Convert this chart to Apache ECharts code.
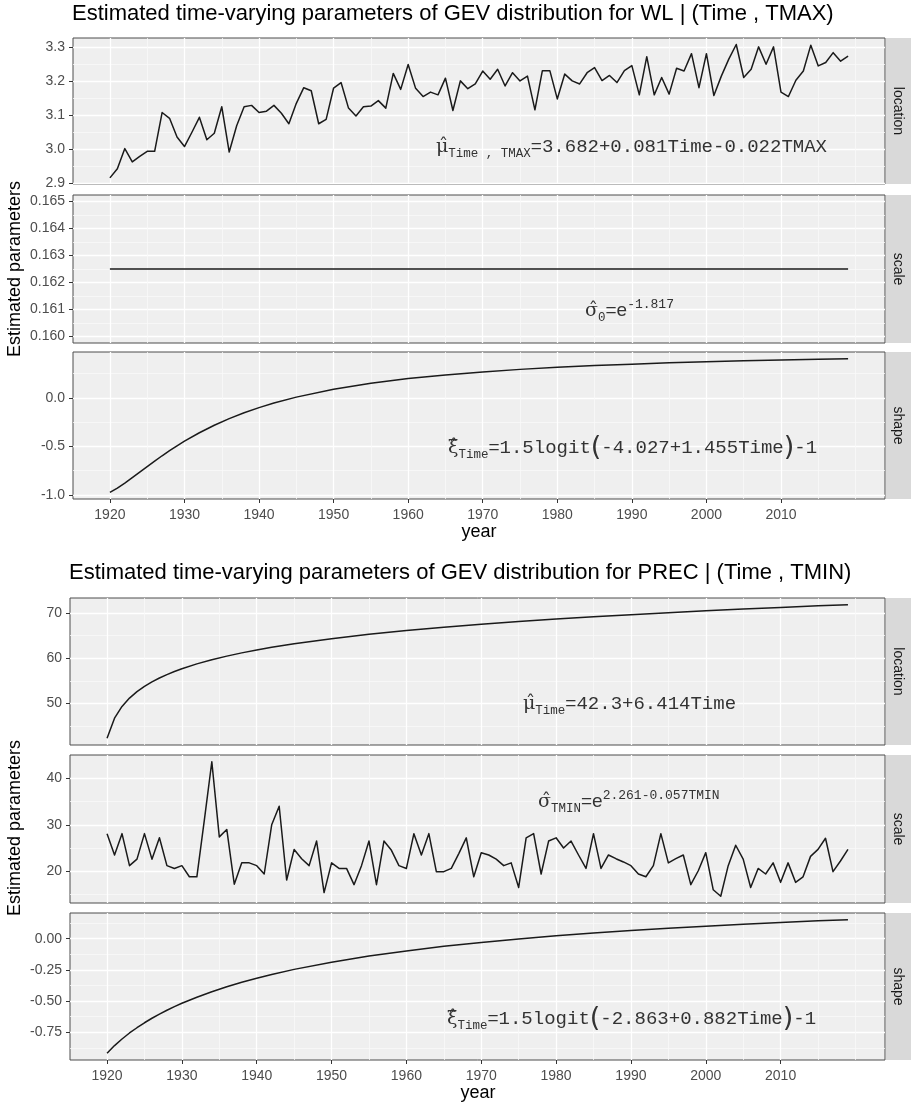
<!DOCTYPE html>
<html>
<head>
<meta charset="utf-8">
<script src="https://cdn.jsdelivr.net/npm/echarts@6.0.0/dist/echarts.min.js"></script>
<style>
html, body { margin: 0; padding: 0; background: #fff; }
#chart { width: 911px; height: 1104px; }
</style>
</head>
<body>
<div id="chart"></div>
<script>
// ---- data ----
var years = [];
for (var yr = 1920; yr <= 2019; yr++) years.push(yr);

// WL location (noisy series, 1920-2019)
var wlLocation = [
    2.915, 2.942, 3.001, 2.962, 2.978, 2.993, 2.993, 3.107, 3.090, 3.035,
    3.007, 3.049, 3.093, 3.027, 3.046, 3.124, 2.991, 3.068, 3.124, 3.128,
    3.107, 3.111, 3.128, 3.105, 3.074, 3.134, 3.180, 3.171, 3.074, 3.087,
    3.179, 3.195, 3.120, 3.097, 3.124, 3.126, 3.142, 3.120, 3.222, 3.175,
    3.248, 3.178, 3.154, 3.167, 3.159, 3.208, 3.113, 3.200, 3.177, 3.191,
    3.229, 3.205, 3.234, 3.185, 3.224, 3.200, 3.214, 3.115, 3.230, 3.230,
    3.147, 3.220, 3.200, 3.191, 3.224, 3.239, 3.201, 3.216, 3.195, 3.230,
    3.245, 3.159, 3.271, 3.159, 3.210, 3.161, 3.237, 3.229, 3.280, 3.180,
    3.280, 3.157, 3.214, 3.264, 3.307, 3.210, 3.234, 3.300, 3.249, 3.300,
    3.167, 3.154, 3.202, 3.229, 3.305, 3.244, 3.254, 3.283, 3.258, 3.273
];

// WL scale (constant)
var wlScaleYears = [1920, 2019];
var wlScale = [0.1625, 0.1625];

// smooth curves, sampled years
var curveYears = [1920, 1921, 1922, 1923, 1924, 1925, 1926, 1927, 1928, 1929, 1930,
    1932, 1934, 1936, 1938, 1940, 1942, 1945, 1950, 1955, 1960, 1965, 1970,
    1975, 1980, 1985, 1990, 1995, 2000, 2005, 2010, 2015, 2019];

var wlShape = [-0.974, -0.930, -0.879, -0.823, -0.765, -0.708, -0.652, -0.597, -0.545, -0.495, -0.447,
    -0.360, -0.283, -0.214, -0.154, -0.101, -0.054, 0.007, 0.088, 0.149, 0.198, 0.236, 0.267,
    0.293, 0.314, 0.332, 0.347, 0.360, 0.371, 0.381, 0.390, 0.398, 0.403];

var precLocation = [42.30, 46.75, 49.35, 51.19, 52.62, 53.79, 54.78, 55.64, 56.39, 57.07, 57.68,
    58.75, 59.67, 60.47, 61.19, 61.83, 62.41, 63.20, 64.33, 65.28, 66.12, 66.86, 67.52,
    68.12, 68.67, 69.17, 69.64, 70.08, 70.49, 70.87, 71.23, 71.58, 71.84];

// PREC scale (noisy series, 1920-2019)
var precScale = [
    28.1, 23.5, 28.1, 21.2, 22.6, 28.1, 22.6, 27.2, 21.2, 20.6,
    21.2, 18.8, 18.8, 31.0, 43.6, 27.4, 29.0, 17.2, 21.8, 21.8,
    21.2, 19.4, 30.0, 34.0, 18.1, 24.7, 22.7, 21.2, 26.5, 15.4,
    21.8, 20.6, 20.6, 17.1, 21.2, 26.5, 17.1, 26.5, 24.5, 21.2,
    20.6, 28.1, 23.5, 28.1, 19.9, 19.9, 20.6, 23.8, 27.2, 18.8,
    24.0, 23.5, 22.6, 21.2, 21.8, 16.5, 27.2, 28.1, 19.4, 26.5,
    27.2, 25.0, 26.5, 23.5, 20.6, 28.1, 20.6, 23.5, 22.7, 22.0,
    21.2, 19.4, 18.8, 21.2, 28.1, 21.8, 22.7, 23.5, 17.1, 20.1,
    24.0, 16.0, 14.6, 21.2, 25.6, 22.6, 16.5, 20.6, 19.4, 21.8,
    17.6, 21.8, 17.6, 18.8, 23.2, 24.7, 27.1, 19.9, 22.2, 24.7
];

var precShape = [-0.919, -0.857, -0.804, -0.756, -0.714, -0.674, -0.638, -0.605, -0.574, -0.545, -0.518,
    -0.469, -0.425, -0.385, -0.349, -0.317, -0.287, -0.246, -0.188, -0.139, -0.098, -0.061, -0.030,
    -0.002, 0.023, 0.045, 0.065, 0.084, 0.100, 0.116, 0.130, 0.143, 0.152];

// tick labels / grid breaks
var yearTicks = [1920, 1930, 1940, 1950, 1960, 1970, 1980, 1990, 2000, 2010];
var yearMinor = [1915, 1925, 1935, 1945, 1955, 1965, 1975, 1985, 1995, 2005, 2015, 2020];
var wlLocTicks = [2.9, 3.0, 3.1, 3.2, 3.3];
var wlLocMinor = [2.95, 3.05, 3.15, 3.25];
var wlScaleTicks = [0.160, 0.161, 0.162, 0.163, 0.164, 0.165];
var wlScaleMinor = [0.1605, 0.1615, 0.1625, 0.1635, 0.1645];
var wlShapeTicks = [-1.0, -0.5, 0.0];
var wlShapeMinor = [-0.75, -0.25, 0.25];
var precLocTicks = [50, 60, 70];
var precLocMinor = [45, 55, 65];
var precScaleTicks = [20, 30, 40];
var precScaleMinor = [15, 25, 35];
var precShapeTicks = [-0.75, -0.50, -0.25, 0.00];
var precShapeMinor = [-0.875, -0.625, -0.375, -0.125, 0.125];

function pairs(xs, ys) {
    return xs.map(function (x, i) { return [x, ys[i]]; });
}

var panels = [
    {left: 73, top: 38, width: 812, height: 146, yMin: 2.897, yMax: 3.326, ticks: wlLocTicks, minor: wlLocMinor, digits: 1, strip: 'location', bottom: false, data: pairs(years, wlLocation)},
    {left: 73, top: 195, width: 812, height: 148, yMin: 0.15976, yMax: 0.16524, ticks: wlScaleTicks, minor: wlScaleMinor, digits: 3, strip: 'scale', bottom: false, data: pairs(wlScaleYears, wlScale)},
    {left: 73, top: 352, width: 812, height: 147, yMin: -1.0425, yMax: 0.472, ticks: wlShapeTicks, minor: wlShapeMinor, digits: 1, strip: 'shape', bottom: true, data: pairs(curveYears, wlShape)},
    {left: 70, top: 598, width: 815, height: 147, yMin: 40.82, yMax: 73.32, ticks: precLocTicks, minor: precLocMinor, digits: 0, strip: 'location', bottom: false, data: pairs(curveYears, precLocation)},
    {left: 70, top: 755, width: 815, height: 148, yMin: 13.15, yMax: 45.05, ticks: precScaleTicks, minor: precScaleMinor, digits: 0, strip: 'scale', bottom: false, data: pairs(years, precScale)},
    {left: 70, top: 913, width: 815, height: 147, yMin: -0.9726, yMax: 0.206, ticks: precShapeTicks, minor: precShapeMinor, digits: 2, strip: 'shape', bottom: true, data: pairs(curveYears, precShape)}
];

var xMin = 1915.05, xMax = 2023.95;
var labelStyle = {color: '#4d4d4d', fontSize: 14, fontFamily: 'Liberation Sans'};
var titleStyle = {fontFamily: 'Liberation Sans', fontSize: 22, fontWeight: 'normal', color: '#000'};

var option = {
    animation: false,
    backgroundColor: '#fff',
    title: [
        {text: 'Estimated time-varying parameters of GEV distribution for WL | (Time , TMAX)', left: 72, top: 3, padding: 0, textStyle: titleStyle},
        {text: 'Estimated time-varying parameters of GEV distribution for PREC | (Time , TMIN)', left: 69, top: 562, padding: 0, textStyle: titleStyle}
    ],
    grid: [],
    xAxis: [],
    yAxis: [],
    series: [],
    graphic: []
};

panels.forEach(function (p, i) {
    option.grid.push({left: p.left, top: p.top, width: p.width, height: p.height, show: true,
        outerBoundsMode: 'none', containLabel: false,
        backgroundColor: '#efefef', borderColor: '#4d4d4d', borderWidth: 1});
    // minor grid lines
    option.xAxis.push({gridIndex: i, type: 'value', position: 'bottom', min: xMin, max: xMax,
        axisLine: {show: false, onZero: false},
        axisTick: {show: false, customValues: yearMinor},
        axisLabel: {show: false, customValues: yearMinor},
        splitLine: {show: true, lineStyle: {color: '#f9f9f9', width: 0.8}}});
    // major
    option.xAxis.push({gridIndex: i, type: 'value', position: 'bottom', min: xMin, max: xMax,
        axisLine: {show: false, onZero: false},
        axisTick: {show: p.bottom, length: 4, lineStyle: {color: '#333', width: 1}, customValues: yearTicks},
        axisLabel: Object.assign({show: p.bottom, margin: 9, customValues: yearTicks,
            formatter: function (v) { return String(v); }}, labelStyle),
        splitLine: {show: true, lineStyle: {color: '#fff', width: 1.3}}});
    option.yAxis.push({gridIndex: i, type: 'value', position: 'left', min: p.yMin, max: p.yMax,
        axisLine: {show: false, onZero: false},
        axisTick: {show: false, customValues: p.minor},
        axisLabel: {show: false, customValues: p.minor},
        splitLine: {show: true, lineStyle: {color: '#f9f9f9', width: 0.8}}});
    option.yAxis.push({gridIndex: i, type: 'value', position: 'left', min: p.yMin, max: p.yMax,
        axisLine: {show: false, onZero: false},
        axisTick: {show: true, length: 4, lineStyle: {color: '#333', width: 1}, customValues: p.ticks},
        axisLabel: Object.assign({show: true, margin: 8, customValues: p.ticks,
            formatter: (function (d) { return function (v) { return v.toFixed(d); }; })(p.digits)}, labelStyle),
        splitLine: {show: true, lineStyle: {color: '#fff', width: 1.3}}});

    option.series.push({
        type: 'line', xAxisIndex: 2 * i + 1, yAxisIndex: 2 * i + 1,
        data: p.data, showSymbol: false, symbol: 'none', smooth: false,
        lineStyle: {color: '#1a1a1a', width: 1.5, join: 'round'}, z: 5
    });

    // facet strip
    option.graphic.push({type: 'rect', shape: {x: 886, y: p.top, width: 25, height: p.height},
        style: {fill: '#d9d9d9'}, z: 1});
    option.graphic.push({type: 'text', x: 898, y: p.top + p.height / 2, rotation: -Math.PI / 2, z: 2,
        style: {text: p.strip, fill: '#1a1a1a', fontSize: 14, fontFamily: 'Liberation Sans', align: 'center', verticalAlign: 'middle'}});
});

// axis titles
[{y: 269}, {y: 828}].forEach(function (t) {
    option.graphic.push({type: 'text', x: 15, y: t.y, rotation: Math.PI / 2, z: 2,
        style: {text: 'Estimated parameters', fill: '#000', fontSize: 18, fontFamily: 'Liberation Sans', align: 'center', verticalAlign: 'middle'}});
});
[{x: 479, y: 532}, {x: 478, y: 1093}].forEach(function (t) {
    option.graphic.push({type: 'text', x: t.x, y: t.y, z: 2,
        style: {text: 'year', fill: '#000', fontSize: 18, fontFamily: 'Liberation Sans', align: 'center', verticalAlign: 'middle'}});
});

// fitted-model equations
var mathRich = {
    g: {fontFamily: 'DejaVu Serif', fontSize: 19, lineHeight: 26, fill: '#333'},
    s: {fontFamily: 'Liberation Mono', fontSize: 12.5, lineHeight: 12, verticalAlign: 'bottom', fill: '#333'},
    e: {fontFamily: 'Liberation Sans', fontSize: 19, lineHeight: 26, fill: '#333'},
    m: {fontFamily: 'Liberation Mono', fontSize: 19, lineHeight: 26, fill: '#333'},
    p: {fontFamily: 'Liberation Mono', fontSize: 13, lineHeight: 12, verticalAlign: 'top', fill: '#333'},
    b: {fontFamily: 'DejaVu Sans', fontSize: 27, lineHeight: 26, fill: '#333'}
};
function eqText(x, y, text) {
    return {type: 'text', x: x, y: y, z: 50,
        style: {text: text, rich: mathRich, fill: '#333', align: 'left', verticalAlign: 'top'}};
}
option.graphic.push(eqText(436, 134, '{g|\u03bc\u0302}{s|Time , TMAX}{e|=}{m|3.682+0.081Time-0.022TMAX}'));
option.graphic.push(eqText(585, 298, '{g|\u03c3\u0302}{s|0}{e|=}{e|e}{p|-1.817}'));
option.graphic.push(eqText(448, 435, '{g|\u03be\u0302}{s|Time}{e|=}{m|1.5logit}{b|(}{m|-4.027+1.455Time}{b|)}{m|-1}'));
option.graphic.push(eqText(523, 691, '{g|\u03bc\u0302}{s|Time}{e|=}{m|42.3+6.414Time}'));
option.graphic.push(eqText(538, 789, '{g|\u03c3\u0302}{s|TMIN}{e|=}{e|e}{p|2.261-0.057TMIN}'));
option.graphic.push(eqText(447, 1006, '{g|\u03be\u0302}{s|Time}{e|=}{m|1.5logit}{b|(}{m|-2.863+0.882Time}{b|)}{m|-1}'));

var chart = echarts.init(document.getElementById('chart'));
chart.setOption(option);
</script>
</body>
</html>
